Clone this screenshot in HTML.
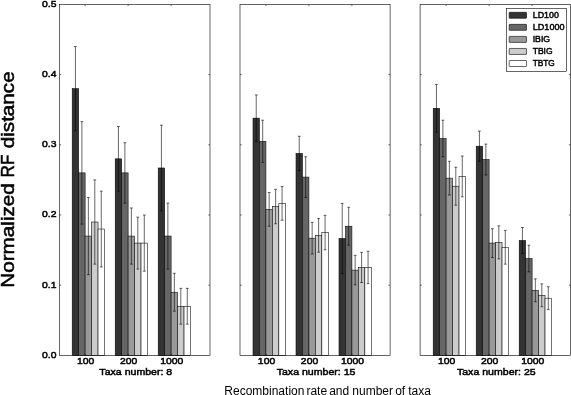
<!DOCTYPE html>
<html><head><meta charset="utf-8"><title>Normalized RF distance</title>
<style>
html,body{margin:0;padding:0;background:#fff;}
body{width:571px;height:395px;overflow:hidden;}
svg{display:block;will-change:transform;}
text{font-family:"Liberation Sans",sans-serif;fill:#000;}
.t{font-size:9.8px;stroke:#000;stroke-width:0.5px;}
.lg{font-size:8.8px;stroke:#000;stroke-width:0.45px;}
.yl{font-size:18.2px;stroke:#000;stroke-width:0.5px;}
.xl{font-size:12px;}
</style></head>
<body>
<svg width="571" height="395" viewBox="0 0 571 395">
<rect x="0" y="0" width="571" height="395" fill="#fff"/>
<g>
<rect x="72.20" y="88.64" width="6.46" height="266.76" fill="#333333" stroke="#000" stroke-width="0.55"/>
<rect x="78.66" y="172.88" width="6.46" height="182.52" fill="#666666" stroke="#000" stroke-width="0.55"/>
<rect x="85.12" y="236.06" width="6.46" height="119.34" fill="#999999" stroke="#000" stroke-width="0.55"/>
<rect x="91.58" y="222.02" width="6.46" height="133.38" fill="#cccccc" stroke="#000" stroke-width="0.55"/>
<rect x="98.04" y="229.04" width="6.46" height="126.36" fill="#ffffff" stroke="#000" stroke-width="0.55"/>
<path d="M75.43 46.52V130.76M74.03 46.52h2.8M74.03 130.76h2.8" stroke="#000" stroke-width="0.6" fill="none"/>
<path d="M81.89 121.63V224.13M80.49 121.63h2.8M80.49 224.13h2.8" stroke="#000" stroke-width="0.6" fill="none"/>
<path d="M88.35 197.45V274.67M86.95 197.45h2.8M86.95 274.67h2.8" stroke="#000" stroke-width="0.6" fill="none"/>
<path d="M94.81 179.90V264.14M93.41 179.90h2.8M93.41 264.14h2.8" stroke="#000" stroke-width="0.6" fill="none"/>
<path d="M101.27 191.13V266.95M99.87 191.13h2.8M99.87 266.95h2.8" stroke="#000" stroke-width="0.6" fill="none"/>
<rect x="115.20" y="158.84" width="6.46" height="196.56" fill="#333333" stroke="#000" stroke-width="0.55"/>
<rect x="121.66" y="172.88" width="6.46" height="182.52" fill="#666666" stroke="#000" stroke-width="0.55"/>
<rect x="128.12" y="236.06" width="6.46" height="119.34" fill="#999999" stroke="#000" stroke-width="0.55"/>
<rect x="134.58" y="243.08" width="6.46" height="112.32" fill="#cccccc" stroke="#000" stroke-width="0.55"/>
<rect x="141.04" y="243.08" width="6.46" height="112.32" fill="#ffffff" stroke="#000" stroke-width="0.55"/>
<path d="M118.43 126.55V191.13M117.03 126.55h2.8M117.03 191.13h2.8" stroke="#000" stroke-width="0.6" fill="none"/>
<path d="M124.89 142.69V203.07M123.49 142.69h2.8M123.49 203.07h2.8" stroke="#000" stroke-width="0.6" fill="none"/>
<path d="M131.35 207.98V264.14M129.95 207.98h2.8M129.95 264.14h2.8" stroke="#000" stroke-width="0.6" fill="none"/>
<path d="M137.81 217.11V269.05M136.41 217.11h2.8M136.41 269.05h2.8" stroke="#000" stroke-width="0.6" fill="none"/>
<path d="M144.27 215.00V271.16M142.87 215.00h2.8M142.87 271.16h2.8" stroke="#000" stroke-width="0.6" fill="none"/>
<rect x="158.20" y="167.97" width="6.46" height="187.43" fill="#333333" stroke="#000" stroke-width="0.55"/>
<rect x="164.66" y="236.06" width="6.46" height="119.34" fill="#666666" stroke="#000" stroke-width="0.55"/>
<rect x="171.12" y="292.22" width="6.46" height="63.18" fill="#999999" stroke="#000" stroke-width="0.55"/>
<rect x="177.58" y="306.26" width="6.46" height="49.14" fill="#cccccc" stroke="#000" stroke-width="0.55"/>
<rect x="184.04" y="306.26" width="6.46" height="49.14" fill="#ffffff" stroke="#000" stroke-width="0.55"/>
<path d="M161.43 125.14V210.79M160.03 125.14h2.8M160.03 210.79h2.8" stroke="#000" stroke-width="0.6" fill="none"/>
<path d="M167.89 203.07V269.05M166.49 203.07h2.8M166.49 269.05h2.8" stroke="#000" stroke-width="0.6" fill="none"/>
<path d="M174.35 273.27V311.17M172.95 273.27h2.8M172.95 311.17h2.8" stroke="#000" stroke-width="0.6" fill="none"/>
<path d="M180.81 288.36V324.16M179.41 288.36h2.8M179.41 324.16h2.8" stroke="#000" stroke-width="0.6" fill="none"/>
<path d="M187.27 288.36V324.16M185.87 288.36h2.8M185.87 324.16h2.8" stroke="#000" stroke-width="0.6" fill="none"/>
<rect x="59.60" y="4.45" width="150.40" height="350.95" fill="none" stroke="#000" stroke-width="0.6"/>
<path d="M59.60 285.20h1.6M210.00 285.20h-1.6M59.60 215.00h1.6M210.00 215.00h-1.6M59.60 144.80h1.6M210.00 144.80h-1.6M59.60 74.60h1.6M210.00 74.60h-1.6M85.12 4.45v1.6M85.12 355.40v-1.6M128.12 4.45v1.6M128.12 355.40v-1.6M171.12 4.45v1.6M171.12 355.40v-1.6" stroke="#000" stroke-width="0.6" fill="none"/>
<text class="t" transform="translate(85.72 363.75) scale(1.06 1)" text-anchor="middle">100</text>
<text class="t" transform="translate(128.72 363.75) scale(1.06 1)" text-anchor="middle">200</text>
<text class="t" transform="translate(171.72 363.75) scale(1.06 1)" text-anchor="middle">1000</text>
<text class="t" transform="translate(135.80 375.20) scale(1.08 1)" text-anchor="middle">Taxa number: 8</text>
</g>
<g>
<rect x="253.00" y="118.12" width="6.46" height="237.28" fill="#333333" stroke="#000" stroke-width="0.55"/>
<rect x="259.46" y="141.29" width="6.46" height="214.11" fill="#666666" stroke="#000" stroke-width="0.55"/>
<rect x="265.92" y="209.38" width="6.46" height="146.02" fill="#999999" stroke="#000" stroke-width="0.55"/>
<rect x="272.38" y="206.58" width="6.46" height="148.82" fill="#cccccc" stroke="#000" stroke-width="0.55"/>
<rect x="278.84" y="203.42" width="6.46" height="151.98" fill="#ffffff" stroke="#000" stroke-width="0.55"/>
<path d="M256.23 94.96V141.29M254.83 94.96h2.8M254.83 141.29h2.8" stroke="#000" stroke-width="0.6" fill="none"/>
<path d="M262.69 120.23V162.35M261.29 120.23h2.8M261.29 162.35h2.8" stroke="#000" stroke-width="0.6" fill="none"/>
<path d="M269.15 192.54V226.23M267.75 192.54h2.8M267.75 226.23h2.8" stroke="#000" stroke-width="0.6" fill="none"/>
<path d="M275.61 189.38V223.77M274.21 189.38h2.8M274.21 223.77h2.8" stroke="#000" stroke-width="0.6" fill="none"/>
<path d="M282.07 186.57V220.26M280.67 186.57h2.8M280.67 220.26h2.8" stroke="#000" stroke-width="0.6" fill="none"/>
<rect x="296.00" y="153.43" width="6.46" height="201.97" fill="#333333" stroke="#000" stroke-width="0.55"/>
<rect x="302.46" y="177.09" width="6.46" height="178.31" fill="#666666" stroke="#000" stroke-width="0.55"/>
<rect x="308.92" y="238.17" width="6.46" height="117.23" fill="#999999" stroke="#000" stroke-width="0.55"/>
<rect x="315.38" y="235.36" width="6.46" height="120.04" fill="#cccccc" stroke="#000" stroke-width="0.55"/>
<rect x="321.84" y="232.55" width="6.46" height="122.85" fill="#ffffff" stroke="#000" stroke-width="0.55"/>
<path d="M299.23 136.24V170.63M297.83 136.24h2.8M297.83 170.63h2.8" stroke="#000" stroke-width="0.6" fill="none"/>
<path d="M305.69 156.73V197.45M304.29 156.73h2.8M304.29 197.45h2.8" stroke="#000" stroke-width="0.6" fill="none"/>
<path d="M312.15 222.37V253.96M310.75 222.37h2.8M310.75 253.96h2.8" stroke="#000" stroke-width="0.6" fill="none"/>
<path d="M318.61 218.51V252.21M317.21 218.51h2.8M317.21 252.21h2.8" stroke="#000" stroke-width="0.6" fill="none"/>
<path d="M325.07 215.35V249.75M323.67 215.35h2.8M323.67 249.75h2.8" stroke="#000" stroke-width="0.6" fill="none"/>
<rect x="339.00" y="238.52" width="6.46" height="116.88" fill="#333333" stroke="#000" stroke-width="0.55"/>
<rect x="345.46" y="226.23" width="6.46" height="129.17" fill="#666666" stroke="#000" stroke-width="0.55"/>
<rect x="351.92" y="270.11" width="6.46" height="85.29" fill="#999999" stroke="#000" stroke-width="0.55"/>
<rect x="358.38" y="267.44" width="6.46" height="87.96" fill="#cccccc" stroke="#000" stroke-width="0.55"/>
<rect x="364.84" y="267.44" width="6.46" height="87.96" fill="#ffffff" stroke="#000" stroke-width="0.55"/>
<path d="M342.23 203.42V273.62M340.83 203.42h2.8M340.83 273.62h2.8" stroke="#000" stroke-width="0.6" fill="none"/>
<path d="M348.69 207.28V245.19M347.29 207.28h2.8M347.29 245.19h2.8" stroke="#000" stroke-width="0.6" fill="none"/>
<path d="M355.15 255.36V284.85M353.75 255.36h2.8M353.75 284.85h2.8" stroke="#000" stroke-width="0.6" fill="none"/>
<path d="M361.61 252.35V282.53M360.21 252.35h2.8M360.21 282.53h2.8" stroke="#000" stroke-width="0.6" fill="none"/>
<path d="M368.07 251.29V283.59M366.67 251.29h2.8M366.67 283.59h2.8" stroke="#000" stroke-width="0.6" fill="none"/>
<rect x="240.00" y="4.45" width="150.10" height="350.95" fill="none" stroke="#000" stroke-width="0.6"/>
<path d="M240.00 285.20h1.6M390.10 285.20h-1.6M240.00 215.00h1.6M390.10 215.00h-1.6M240.00 144.80h1.6M390.10 144.80h-1.6M240.00 74.60h1.6M390.10 74.60h-1.6M265.92 4.45v1.6M265.92 355.40v-1.6M308.92 4.45v1.6M308.92 355.40v-1.6M351.92 4.45v1.6M351.92 355.40v-1.6" stroke="#000" stroke-width="0.6" fill="none"/>
<text class="t" transform="translate(266.52 363.75) scale(1.06 1)" text-anchor="middle">100</text>
<text class="t" transform="translate(309.52 363.75) scale(1.06 1)" text-anchor="middle">200</text>
<text class="t" transform="translate(352.52 363.75) scale(1.06 1)" text-anchor="middle">1000</text>
<text class="t" transform="translate(316.05 375.20) scale(1.08 1)" text-anchor="middle">Taxa number: 15</text>
</g>
<g>
<rect x="433.20" y="108.30" width="6.46" height="247.10" fill="#333333" stroke="#000" stroke-width="0.55"/>
<rect x="439.66" y="138.48" width="6.46" height="216.92" fill="#666666" stroke="#000" stroke-width="0.55"/>
<rect x="446.12" y="178.14" width="6.46" height="177.25" fill="#999999" stroke="#000" stroke-width="0.55"/>
<rect x="452.58" y="186.22" width="6.46" height="169.18" fill="#cccccc" stroke="#000" stroke-width="0.55"/>
<rect x="459.04" y="176.39" width="6.46" height="179.01" fill="#ffffff" stroke="#000" stroke-width="0.55"/>
<path d="M436.43 84.43V132.16M435.03 84.43h2.8M435.03 132.16h2.8" stroke="#000" stroke-width="0.6" fill="none"/>
<path d="M442.89 120.23V156.73M441.49 120.23h2.8M441.49 156.73h2.8" stroke="#000" stroke-width="0.6" fill="none"/>
<path d="M449.35 161.30V194.99M447.95 161.30h2.8M447.95 194.99h2.8" stroke="#000" stroke-width="0.6" fill="none"/>
<path d="M455.81 167.26V205.17M454.41 167.26h2.8M454.41 205.17h2.8" stroke="#000" stroke-width="0.6" fill="none"/>
<path d="M462.27 156.03V196.75M460.87 156.03h2.8M460.87 196.75h2.8" stroke="#000" stroke-width="0.6" fill="none"/>
<rect x="476.20" y="146.20" width="6.46" height="209.20" fill="#333333" stroke="#000" stroke-width="0.55"/>
<rect x="482.66" y="159.54" width="6.46" height="195.86" fill="#666666" stroke="#000" stroke-width="0.55"/>
<rect x="489.12" y="243.08" width="6.46" height="112.32" fill="#999999" stroke="#000" stroke-width="0.55"/>
<rect x="495.58" y="242.38" width="6.46" height="113.02" fill="#cccccc" stroke="#000" stroke-width="0.55"/>
<rect x="502.04" y="247.29" width="6.46" height="108.11" fill="#ffffff" stroke="#000" stroke-width="0.55"/>
<path d="M479.43 131.11V161.30M478.03 131.11h2.8M478.03 161.30h2.8" stroke="#000" stroke-width="0.6" fill="none"/>
<path d="M485.89 144.10V174.99M484.49 144.10h2.8M484.49 174.99h2.8" stroke="#000" stroke-width="0.6" fill="none"/>
<path d="M492.35 228.69V257.47M490.95 228.69h2.8M490.95 257.47h2.8" stroke="#000" stroke-width="0.6" fill="none"/>
<path d="M498.81 225.88V258.88M497.41 225.88h2.8M497.41 258.88h2.8" stroke="#000" stroke-width="0.6" fill="none"/>
<path d="M505.27 230.44V264.14M503.87 230.44h2.8M503.87 264.14h2.8" stroke="#000" stroke-width="0.6" fill="none"/>
<rect x="519.20" y="240.48" width="6.46" height="114.92" fill="#333333" stroke="#000" stroke-width="0.55"/>
<rect x="525.66" y="258.52" width="6.46" height="96.88" fill="#666666" stroke="#000" stroke-width="0.55"/>
<rect x="532.12" y="290.32" width="6.46" height="65.08" fill="#999999" stroke="#000" stroke-width="0.55"/>
<rect x="538.58" y="295.31" width="6.46" height="60.09" fill="#cccccc" stroke="#000" stroke-width="0.55"/>
<rect x="545.04" y="298.19" width="6.46" height="57.21" fill="#ffffff" stroke="#000" stroke-width="0.55"/>
<path d="M522.43 227.50V253.47M521.03 227.50h2.8M521.03 253.47h2.8" stroke="#000" stroke-width="0.6" fill="none"/>
<path d="M528.89 245.19V271.86M527.49 245.19h2.8M527.49 271.86h2.8" stroke="#000" stroke-width="0.6" fill="none"/>
<path d="M535.35 278.88V301.77M533.95 278.88h2.8M533.95 301.77h2.8" stroke="#000" stroke-width="0.6" fill="none"/>
<path d="M541.81 283.87V306.75M540.41 283.87h2.8M540.41 306.75h2.8" stroke="#000" stroke-width="0.6" fill="none"/>
<path d="M548.27 286.74V309.63M546.87 286.74h2.8M546.87 309.63h2.8" stroke="#000" stroke-width="0.6" fill="none"/>
<rect x="420.10" y="4.45" width="150.40" height="350.95" fill="none" stroke="#000" stroke-width="0.6"/>
<path d="M420.10 285.20h1.6M570.50 285.20h-1.6M420.10 215.00h1.6M570.50 215.00h-1.6M420.10 144.80h1.6M570.50 144.80h-1.6M420.10 74.60h1.6M570.50 74.60h-1.6M446.12 4.45v1.6M446.12 355.40v-1.6M489.12 4.45v1.6M489.12 355.40v-1.6M532.12 4.45v1.6M532.12 355.40v-1.6" stroke="#000" stroke-width="0.6" fill="none"/>
<text class="t" transform="translate(446.72 363.75) scale(1.06 1)" text-anchor="middle">100</text>
<text class="t" transform="translate(489.72 363.75) scale(1.06 1)" text-anchor="middle">200</text>
<text class="t" transform="translate(532.72 363.75) scale(1.06 1)" text-anchor="middle">1000</text>
<text class="t" transform="translate(496.30 375.20) scale(1.08 1)" text-anchor="middle">Taxa number: 25</text>
</g>
<text class="t" transform="translate(56.40 358.30) scale(1.06 1)" text-anchor="end">0.0</text>
<text class="t" transform="translate(56.40 288.00) scale(1.06 1)" text-anchor="end">0.1</text>
<text class="t" transform="translate(56.40 217.30) scale(1.06 1)" text-anchor="end">0.2</text>
<text class="t" transform="translate(56.40 147.40) scale(1.06 1)" text-anchor="end">0.3</text>
<text class="t" transform="translate(56.40 77.10) scale(1.06 1)" text-anchor="end">0.4</text>
<text class="t" transform="translate(56.40 7.10) scale(1.06 1)" text-anchor="end">0.5</text>
<text class="yl" transform="translate(14.1 287.7) rotate(-90) scale(1.137 1)">Normalized</text>
<text class="yl" transform="translate(14.1 177.4) rotate(-90) scale(0.945 1)">RF</text>
<text class="yl" transform="translate(14.1 148.3) rotate(-90) scale(1.137 1)">distance</text>
<text class="xl" y="395"><tspan x="224.35">Recombination</tspan> <tspan x="306.45">rate</tspan> <tspan x="329.2">and</tspan> <tspan x="352.3">number</tspan> <tspan x="395.2">of</tspan> <tspan x="408.2">taxa</tspan></text>
<rect x="506.4" y="8.5" width="60.1" height="63" fill="#fff" stroke="#000" stroke-width="0.6"/>
<rect x="509.2" y="12.30" width="17.3" height="6" rx="0.5" fill="#333333" stroke="#000" stroke-width="0.6"/>
<text class="lg" transform="translate(532.70 17.75) scale(1.01 1)" text-anchor="start">LD100</text>
<rect x="509.2" y="24.35" width="17.3" height="6" rx="0.5" fill="#666666" stroke="#000" stroke-width="0.6"/>
<text class="lg" transform="translate(532.70 29.80) scale(1.035 1)" text-anchor="start">LD1000</text>
<rect x="509.2" y="36.40" width="17.3" height="6" rx="0.5" fill="#999999" stroke="#000" stroke-width="0.6"/>
<text class="lg" transform="translate(532.70 41.85) scale(0.99 1)" text-anchor="start">IBIG</text>
<rect x="509.2" y="48.45" width="17.3" height="6" rx="0.5" fill="#cccccc" stroke="#000" stroke-width="0.6"/>
<text class="lg" transform="translate(532.70 53.90) scale(0.97 1)" text-anchor="start">TBIG</text>
<rect x="509.2" y="60.50" width="17.3" height="6" rx="0.5" fill="#ffffff" stroke="#000" stroke-width="0.6"/>
<text class="lg" transform="translate(532.70 65.95) scale(0.94 1)" text-anchor="start">TBTG</text>
</svg>
</body></html>
